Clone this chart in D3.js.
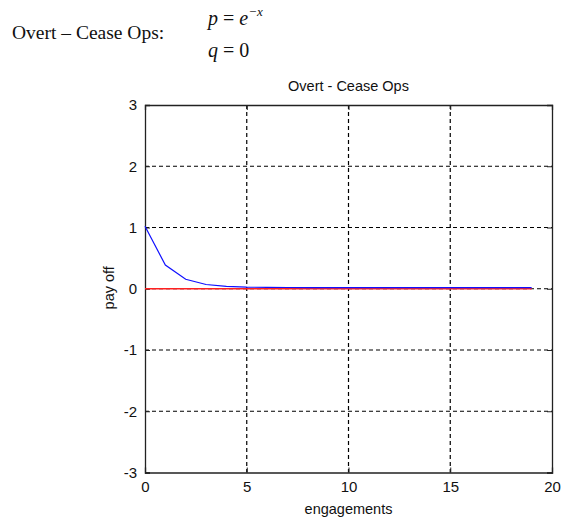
<!DOCTYPE html>
<html><head><meta charset="utf-8">
<script src="https://cdn.jsdelivr.net/npm/d3@7"></script>
<style>body{margin:0;background:#fff}svg{display:block}</style>
</head><body>
<script>
const engagements = [0,1,2,3,4,5,6,7,8,9,10,11,12,13,14,15,16,17,18,19];
const pValues = [1,0.3679,0.1353,0.0498,0.0183,0.0067,0.0025,0.0009,0.0003,0.0001,0.00005,0.00002,0.00001,0,0,0,0,0,0,0];
const qValues = [0,0,0,0,0,0,0,0,0,0,0,0,0,0,0,0,0,0,0,0];
const xTicks = [0,5,10,15,20];
const yTicks = [-3,-2,-1,0,1,2,3];

const W=568,H=524;
const svg=d3.select("body").append("svg").attr("width",W).attr("height",H);
const L=145,R=552,T=105,B=472.5;
const x=d3.scaleLinear().domain([0,20]).range([L,R]);
const y=d3.scaleLinear().domain([-3,3]).range([B,T]);
const fmt=d=>String(d);

// header
svg.append("text").attr("x",12).attr("y",39).attr("font-family","Liberation Serif, Times New Roman, serif")
  .attr("font-size",19.5).attr("fill","#111").text("Overt \u2013 Cease Ops:");
const eq1=svg.append("text").attr("x",208).attr("y",25).attr("font-family","Liberation Serif, serif").attr("font-size",20).attr("fill","#111");
eq1.append("tspan").attr("font-style","italic").text("p");
eq1.append("tspan").text(" = ");
eq1.append("tspan").attr("font-style","italic").text("e");
eq1.append("tspan").attr("font-size",13).attr("dy",-9).attr("font-style","italic").text("\u2212x");
const eq2=svg.append("text").attr("x",208).attr("y",57).attr("font-family","Liberation Serif, serif").attr("font-size",20).attr("fill","#111");
eq2.append("tspan").attr("font-style","italic").text("q");
eq2.append("tspan").text(" = 0");

// grid
const g=svg.append("g");
g.selectAll(".gx").data(xTicks.filter(d=>d>0&&d<20)).join("line")
  .attr("x1",d=>x(d)).attr("x2",d=>x(d)).attr("y1",T).attr("y2",B)
  .attr("stroke","#000").attr("stroke-width",1.2).attr("stroke-dasharray","4,3");
g.selectAll(".gy").data(yTicks.filter(d=>d>-3&&d<3)).join("line")
  .attr("y1",d=>y(d)).attr("y2",d=>y(d)).attr("x1",L).attr("x2",R)
  .attr("stroke","#000").attr("stroke-width",1.2).attr("stroke-dasharray","4,3");

// axes
const fontA="Liberation Sans, Arial, sans-serif";
const xAxis=svg.append("g").attr("transform",`translate(0,${B})`)
  .call(d3.axisBottom(x).tickValues(xTicks).tickSize(-5).tickPadding(9).tickFormat(fmt));
const xTop=svg.append("g").attr("transform",`translate(0,${T})`)
  .call(d3.axisTop(x).tickValues(xTicks).tickSize(-5).tickFormat(""));
const yAxis=svg.append("g").attr("transform",`translate(${L},0)`)
  .call(d3.axisLeft(y).tickValues(yTicks).tickSize(-5).tickPadding(8).tickFormat(fmt));
const yRight=svg.append("g").attr("transform",`translate(${R},0)`)
  .call(d3.axisRight(y).tickValues(yTicks).tickSize(-5).tickFormat(""));
[xAxis,xTop,yAxis,yRight].forEach(a=>{
  a.select(".domain").attr("stroke","#222").attr("stroke-width",1.3);
  a.selectAll(".tick line").attr("stroke","#222");
  a.selectAll("text").attr("font-family",fontA).attr("font-size",15).attr("fill","#111");
});
xAxis.selectAll("text").attr("dy","0.71em");

// lines
const line=d3.line().x((d,i)=>x(engagements[i])).y(d=>y(d));
svg.append("path").datum(qValues).attr("d",line).attr("fill","none").attr("stroke","#ff2020").attr("stroke-width",1.5);
svg.append("path").datum(pValues).attr("d",line).attr("fill","none").attr("stroke","#1010ff").attr("stroke-width",1.2)
  .attr("transform","translate(0,-1.2)");

// labels
svg.append("text").attr("x",(L+R)/2).attr("y",91).attr("text-anchor","middle")
  .attr("font-family",fontA).attr("font-size",14.5).attr("fill","#111").text("Overt - Cease Ops");
svg.append("text").attr("x",(L+R)/2).attr("y",514).attr("text-anchor","middle")
  .attr("font-family",fontA).attr("font-size",14.5).attr("fill","#111").text("engagements");
svg.append("text").attr("transform",`translate(114,${(T+B)/2 -1}) rotate(-90)`).attr("text-anchor","middle")
  .attr("font-family",fontA).attr("font-size",14.5).attr("fill","#111").text("pay off");
</script>
</body></html>
